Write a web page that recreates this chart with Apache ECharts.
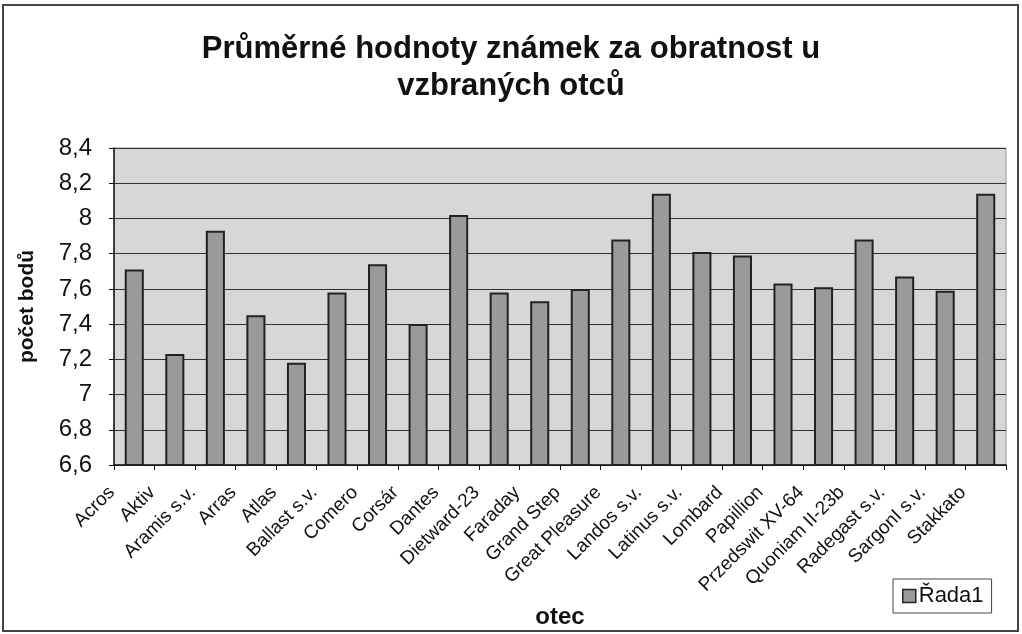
<!DOCTYPE html>
<html>
<head>
<meta charset="utf-8">
<script src="https://cdn.jsdelivr.net/npm/echarts@6/dist/echarts.min.js"></script>
<style>
  html, body { margin: 0; padding: 0; background: #fff; }
  #chart { width: 1022px; height: 634px; }
</style>
</head>
<body>
<div id="chart"></div>
<script>
// otcove (kategorie osy x)
var categories = ['Acros', 'Aktiv', 'Aramis s.v.', 'Arras', 'Atlas', 'Ballast s.v.', 'Comero', 'Corsár',
  'Dantes', 'Dietward-23', 'Faraday', 'Grand Step', 'Great Pleasure', 'Landos s.v.', 'Latinus s.v.',
  'Lombard', 'Papillion', 'Przedswit XV-64', 'Quoniam II-23b', 'Radegast s.v.', 'SargonI s.v.', 'Stakkato'];
// prumerne znamky za obratnost
var rada1 = [7.71, 7.23, 7.93, 7.45, 7.18, 7.58, 7.74, 7.40, 8.02, 7.58, 7.53,
  7.60, 7.88, 8.14, 7.81, 7.79, 7.63, 7.61, 7.88, 7.67, 7.59, 8.14];
var yMin = 6.6, yMax = 8.4, yStep = 0.2;

var font = '"Liberation Sans", Arial, sans-serif';
var chart = echarts.init(document.getElementById('chart'));
chart.setOption({
  animation: false,
  backgroundColor: '#fff',
  title: {
    text: 'Průměrné hodnoty známek za obratnost u\nvzbraných otců',
    left: 'center',
    top: 26,
    textStyle: { fontFamily: font, fontSize: 31, fontWeight: 'bold', color: '#111', lineHeight: 37 }
  },
  graphic: [{
    type: 'rect',
    shape: { x: 3, y: 5, width: 1015, height: 626 },
    style: { fill: 'none', stroke: '#444', lineWidth: 2 },
    silent: true
  }],
  legend: {
    data: ['Řada1'],
    left: 893,
    top: 579,
    orient: 'vertical',
    padding: [6, 8, 6, 9],
    backgroundColor: '#fff',
    borderColor: '#444',
    borderWidth: 1,
    borderRadius: 0,
    itemWidth: 13,
    itemHeight: 13,
    icon: 'rect',
    itemStyle: { color: '#9a9a9a', borderColor: '#222', borderWidth: 1.5 },
    textStyle: { fontFamily: font, fontSize: 22, color: '#111', padding: [0, 0, 0, -2] }
  },
  grid: {
    left: 114,
    right: 16,
    top: 148,
    bottom: 164,
    show: true,
    backgroundColor: '#d7d7d7',
    borderColor: '#999',
    borderWidth: 1
  },
  xAxis: {
    type: 'category',
    data: categories,
    name: 'otec',
    nameLocation: 'middle',
    nameGap: 140,
    nameTextStyle: { fontFamily: font, fontSize: 24, fontWeight: 'bold', color: '#111' },
    axisLine: { lineStyle: { color: '#111', width: 1.5 } },
    axisTick: { show: true, length: 5, lineStyle: { color: '#111' } },
    axisLabel: {
      rotate: 45, interval: 0, fontFamily: font, fontSize: 19, color: '#111',
      margin: 2, padding: [0, 32, 0, 0]
    }
  },
  yAxis: {
    type: 'value',
    min: yMin,
    max: yMax,
    interval: yStep,
    name: 'počet bodů',
    nameLocation: 'middle',
    nameGap: 76,
    nameTextStyle: { fontFamily: font, fontSize: 21, fontWeight: 'bold', color: '#111' },
    axisLine: { show: true, lineStyle: { color: '#111', width: 1.5 } },
    axisTick: { show: true, length: 5, lineStyle: { color: '#111' } },
    axisLabel: {
      fontFamily: font, fontSize: 24, color: '#111', margin: 22,
      formatter: function (v) { return String(Math.round(v * 10) / 10).replace('.', ','); }
    },
    splitLine: { show: true, lineStyle: { color: '#333', width: 1 } }
  },
  series: [{
    name: 'Řada1',
    type: 'bar',
    data: rada1,
    barWidth: '47%',
    itemStyle: { color: '#9a9a9a', borderColor: '#222', borderWidth: 2 }
  }]
});
</script>
</body>
</html>
